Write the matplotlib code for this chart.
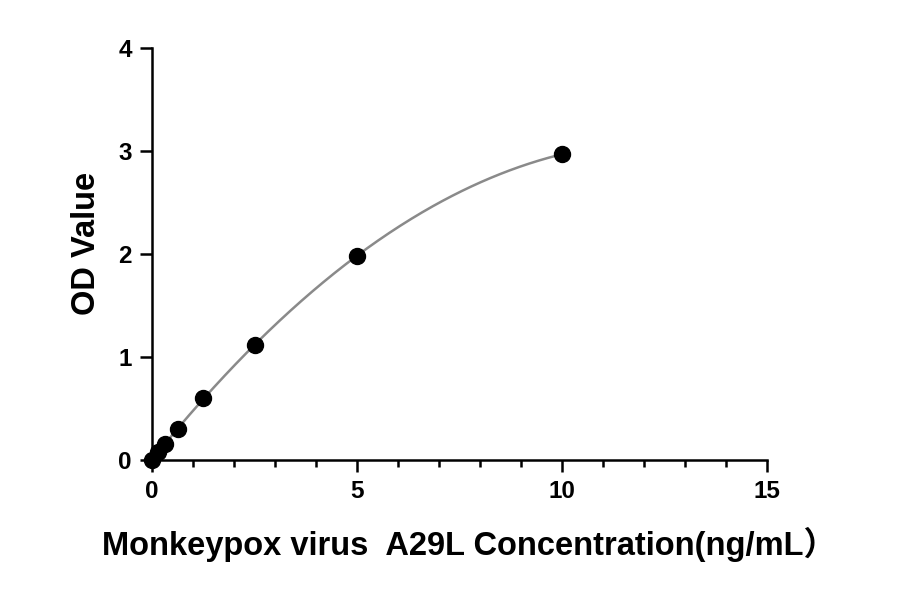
import matplotlib
matplotlib.use("Agg")
import matplotlib.pyplot as plt
import numpy as np
from matplotlib.ticker import MultipleLocator

plt.rcParams['font.family'] = ['Liberation Sans', 'Noto Sans CJK SC', 'DejaVu Sans']
plt.rcParams['font.weight'] = 'bold'

# standard curve data
conc = [0, 0.156, 0.3125, 0.625, 1.25, 2.5, 5, 10]
od = [0.0, 0.08, 0.16, 0.30, 0.60, 1.12, 1.98, 2.97]

x_ticks = [0, 5, 10, 15]
y_ticks = [0, 1, 2, 3, 4]

fig = plt.figure(figsize=(9, 5.94), dpi=100)
ax = fig.add_axes([0.169, 0.2256, 0.683, 0.6934])

# fitted curve (quadratic through the points)
coef = np.polyfit(conc, od, 2)
xs = np.linspace(0, max(conc), 300)
ax.plot(xs, np.polyval(coef, xs), color='#8a8a8a', lw=1.8, zorder=2)
ax.plot(conc, od, 'o', color='black', ms=11.5, zorder=3, clip_on=False)

ax.set_xlim(0, 15)
ax.set_ylim(0, 4)
ax.set_xticks(x_ticks)
ax.set_yticks(y_ticks)
ax.xaxis.set_minor_locator(MultipleLocator(1))

for s in ['top', 'right']:
    ax.spines[s].set_visible(False)
for s in ['left', 'bottom']:
    ax.spines[s].set_linewidth(1.8)

ax.tick_params(which='major', length=8.5, width=1.8, labelsize=17.5, pad=6)
ax.tick_params(which='minor', length=5, width=1.8)

ax.set_xlabel('Monkeypox virus  A29L Concentration(ng/mL）', fontsize=23.5,
              fontweight='bold', labelpad=17)
ax.set_ylabel('OD Value', fontsize=23.5, fontweight='bold', labelpad=12)
ax.xaxis.label.set_x(0.515)
ax.yaxis.label.set_y(0.525)

fig.savefig('out.png', dpi=100)
